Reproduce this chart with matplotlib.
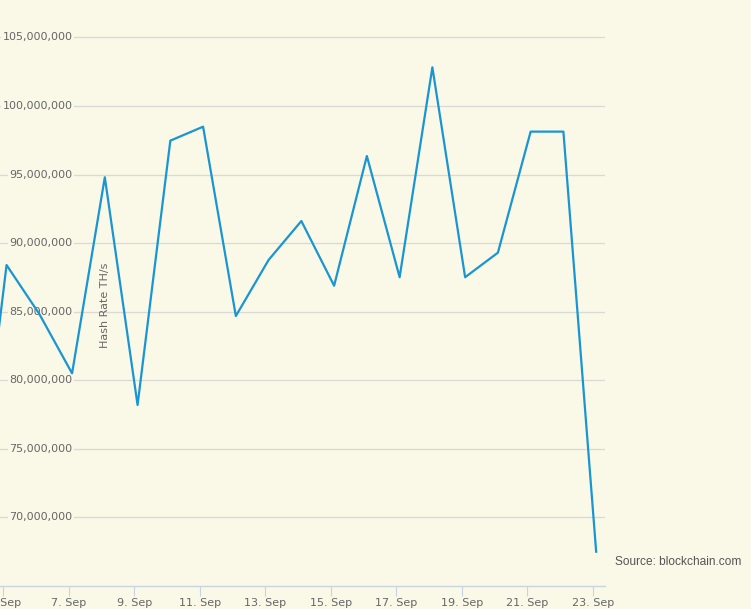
#!/usr/bin/env python3
# -*- coding: utf-8 -*-
"""
Daily bitcoin hash rate, September (source: blockchain.com)
"""

#import packages
import numpy as np
import matplotlib.pyplot as plt

#data, one value per day
days = [4, 5, 6, 7, 8, 9, 10, 11, 12, 13, 14, 15, 16, 17, 18, 19, 20, 21, 22, 23]
hash_rate = [68.7e6, 88.40e6, 84.83e6, 80.50e6, 94.80e6, 78.19e6, 97.47e6, 98.49e6,
             84.68e6, 88.77e6, 91.61e6, 86.89e6, 96.35e6, 87.51e6, 102.82e6,
             87.51e6, 89.30e6, 98.13e6, 98.13e6, 67.49e6]
tick_days = [5, 7, 9, 11, 13, 15, 17, 19, 21, 23]
tick_labels = ['5. Sep', '7. Sep', '9. Sep', '11. Sep', '13. Sep',
               '15. Sep', '17. Sep', '19. Sep', '21. Sep', '23. Sep']
y_ticks = [70e6, 75e6, 80e6, 85e6, 90e6, 95e6, 100e6, 105e6]

bg = '#faf8e7'
text_col = '#666666'

fig = plt.figure(figsize=(7.51, 6.09), dpi=100, facecolor=bg)
ax = fig.add_axes([0, 23.3/609, 605/751, 585.7/609], facecolor=bg)

#points are stamped a couple of hours after midnight
x = np.array(days) + 0.1
ax.plot(x, hash_rate, color='#1a95d3', lw=1.6, zorder=3)

ax.set_xlim(4.9, 23.37)
ax.set_ylim(65.01e6, 107.73e6)

#horizontal grid, labels sit inside the plot on top of the lines
for v in y_ticks:
    ax.axhline(v, color='#d9d9d6', lw=0.9, zorder=1)
    ax.text(4.9 + 72.7/32.75, v, f'{int(v):,}', ha='right', va='center',
            fontsize=8, color=text_col, zorder=2,
            bbox=dict(facecolor=bg, edgecolor='none', pad=1))
ax.set_yticks([])

ax.set_xticks(tick_days)
ax.set_xticklabels(tick_labels, fontsize=8, color=text_col)
ax.tick_params(axis='x', length=7, width=0.8, color='#c8d4e0', pad=1.5)

for s in ['top', 'right', 'left']:
    ax.spines[s].set_visible(False)
ax.spines['bottom'].set_color('#c8d4e0')
ax.spines['bottom'].set_linewidth(1)

fig.text(105/751, 1 - 305/609, 'Hash Rate TH/s', rotation=90, ha='center', va='center',
         fontsize=8, color=text_col)
fig.text(615/751, 1 - 561.7/609, 'Source: blockchain.com', ha='left', va='center',
         fontsize=8.6, color='#555555', family='Liberation Sans')

fig.savefig('out.png', dpi=100, facecolor=bg)
